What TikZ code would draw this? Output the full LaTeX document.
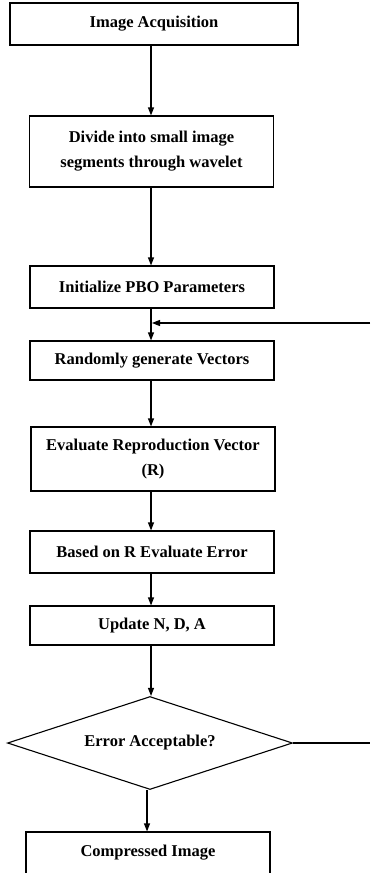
\documentclass[tikz,border=0pt]{standalone}
\usepackage{fontspec}
\setmainfont{Liberation Serif}
\usetikzlibrary{arrows.meta,positioning,shapes.geometric}

\tikzset{
  stepbox/.style={draw, line width=1.1pt, rectangle, minimum width=244pt, minimum height=42pt,
    align=center, inner sep=2pt, font=\fontsize{16.5}{25}\selectfont\bfseries},
  decide/.style={draw, line width=1.1pt, diamond, minimum width=285pt, minimum height=93pt,
    aspect=3, inner sep=0pt, font=\fontsize{16.5}{25}\selectfont\bfseries},
  flow/.style={line width=1.1pt, -{Triangle[length=8pt,width=6pt]}},
}

\begin{document}
\begin{tikzpicture}[x=1pt, y=-1pt]
\path[use as bounding box, clip] (0,0) rectangle (370,873);
% Steps
\node[stepbox, minimum width=288pt] (acq) at (154,24) {Image Acquisition};
\node[stepbox, minimum height=71pt] (divide) at (151.5,151.5) {Divide into small image\\segments through wavelet};
\node[stepbox] (init) at (152,287) {Initialize PBO Parameters};
\node[stepbox, minimum height=39pt] (random) at (152,360.5) {Randomly generate Vectors};
\node[stepbox, minimum height=64pt] (evalR) at (153,459) {Evaluate Reproduction Vector\\(R)};
\node[stepbox] (err) at (152,552) {Based on R Evaluate Error};
\node[stepbox, minimum height=39pt] (upd) at (152,625.5) {Update N, D, A};
\node[decide] (accept) at (150,743) {Error Acceptable?};
\node[stepbox] (comp) at (148,853) {Compressed Image};
% Loop ends
\coordinate (merge) at (152,323);
\coordinate (loopT) at (370,323);
\coordinate (loopR) at (370,743);
% Arrows
\draw[flow] (acq.south -| 151,0) -- (divide.north -| 151,0);
\draw[flow] (divide.south -| 151,0) -- (init.north -| 151,0);
\draw[flow] (init.south -| 151,0) -- (random.north -| 151,0);
\draw[flow] (loopT) -- (merge);
\draw[flow] (random.south -| 151,0) -- (evalR.north -| 151,0);
\draw[flow] (evalR.south -| 151,0) -- (err.north -| 151,0);
\draw[flow] (err.south -| 151,0) -- (upd.north -| 151,0);
\draw[flow] (upd.south -| 151,0) -- (accept.north -| 151,0);
\draw[flow] (accept.south -| 147,0) -- (comp.north -| 147,0);
\draw[line width=1.1pt] (accept.east) -- (loopR);
\end{tikzpicture}
\end{document}
